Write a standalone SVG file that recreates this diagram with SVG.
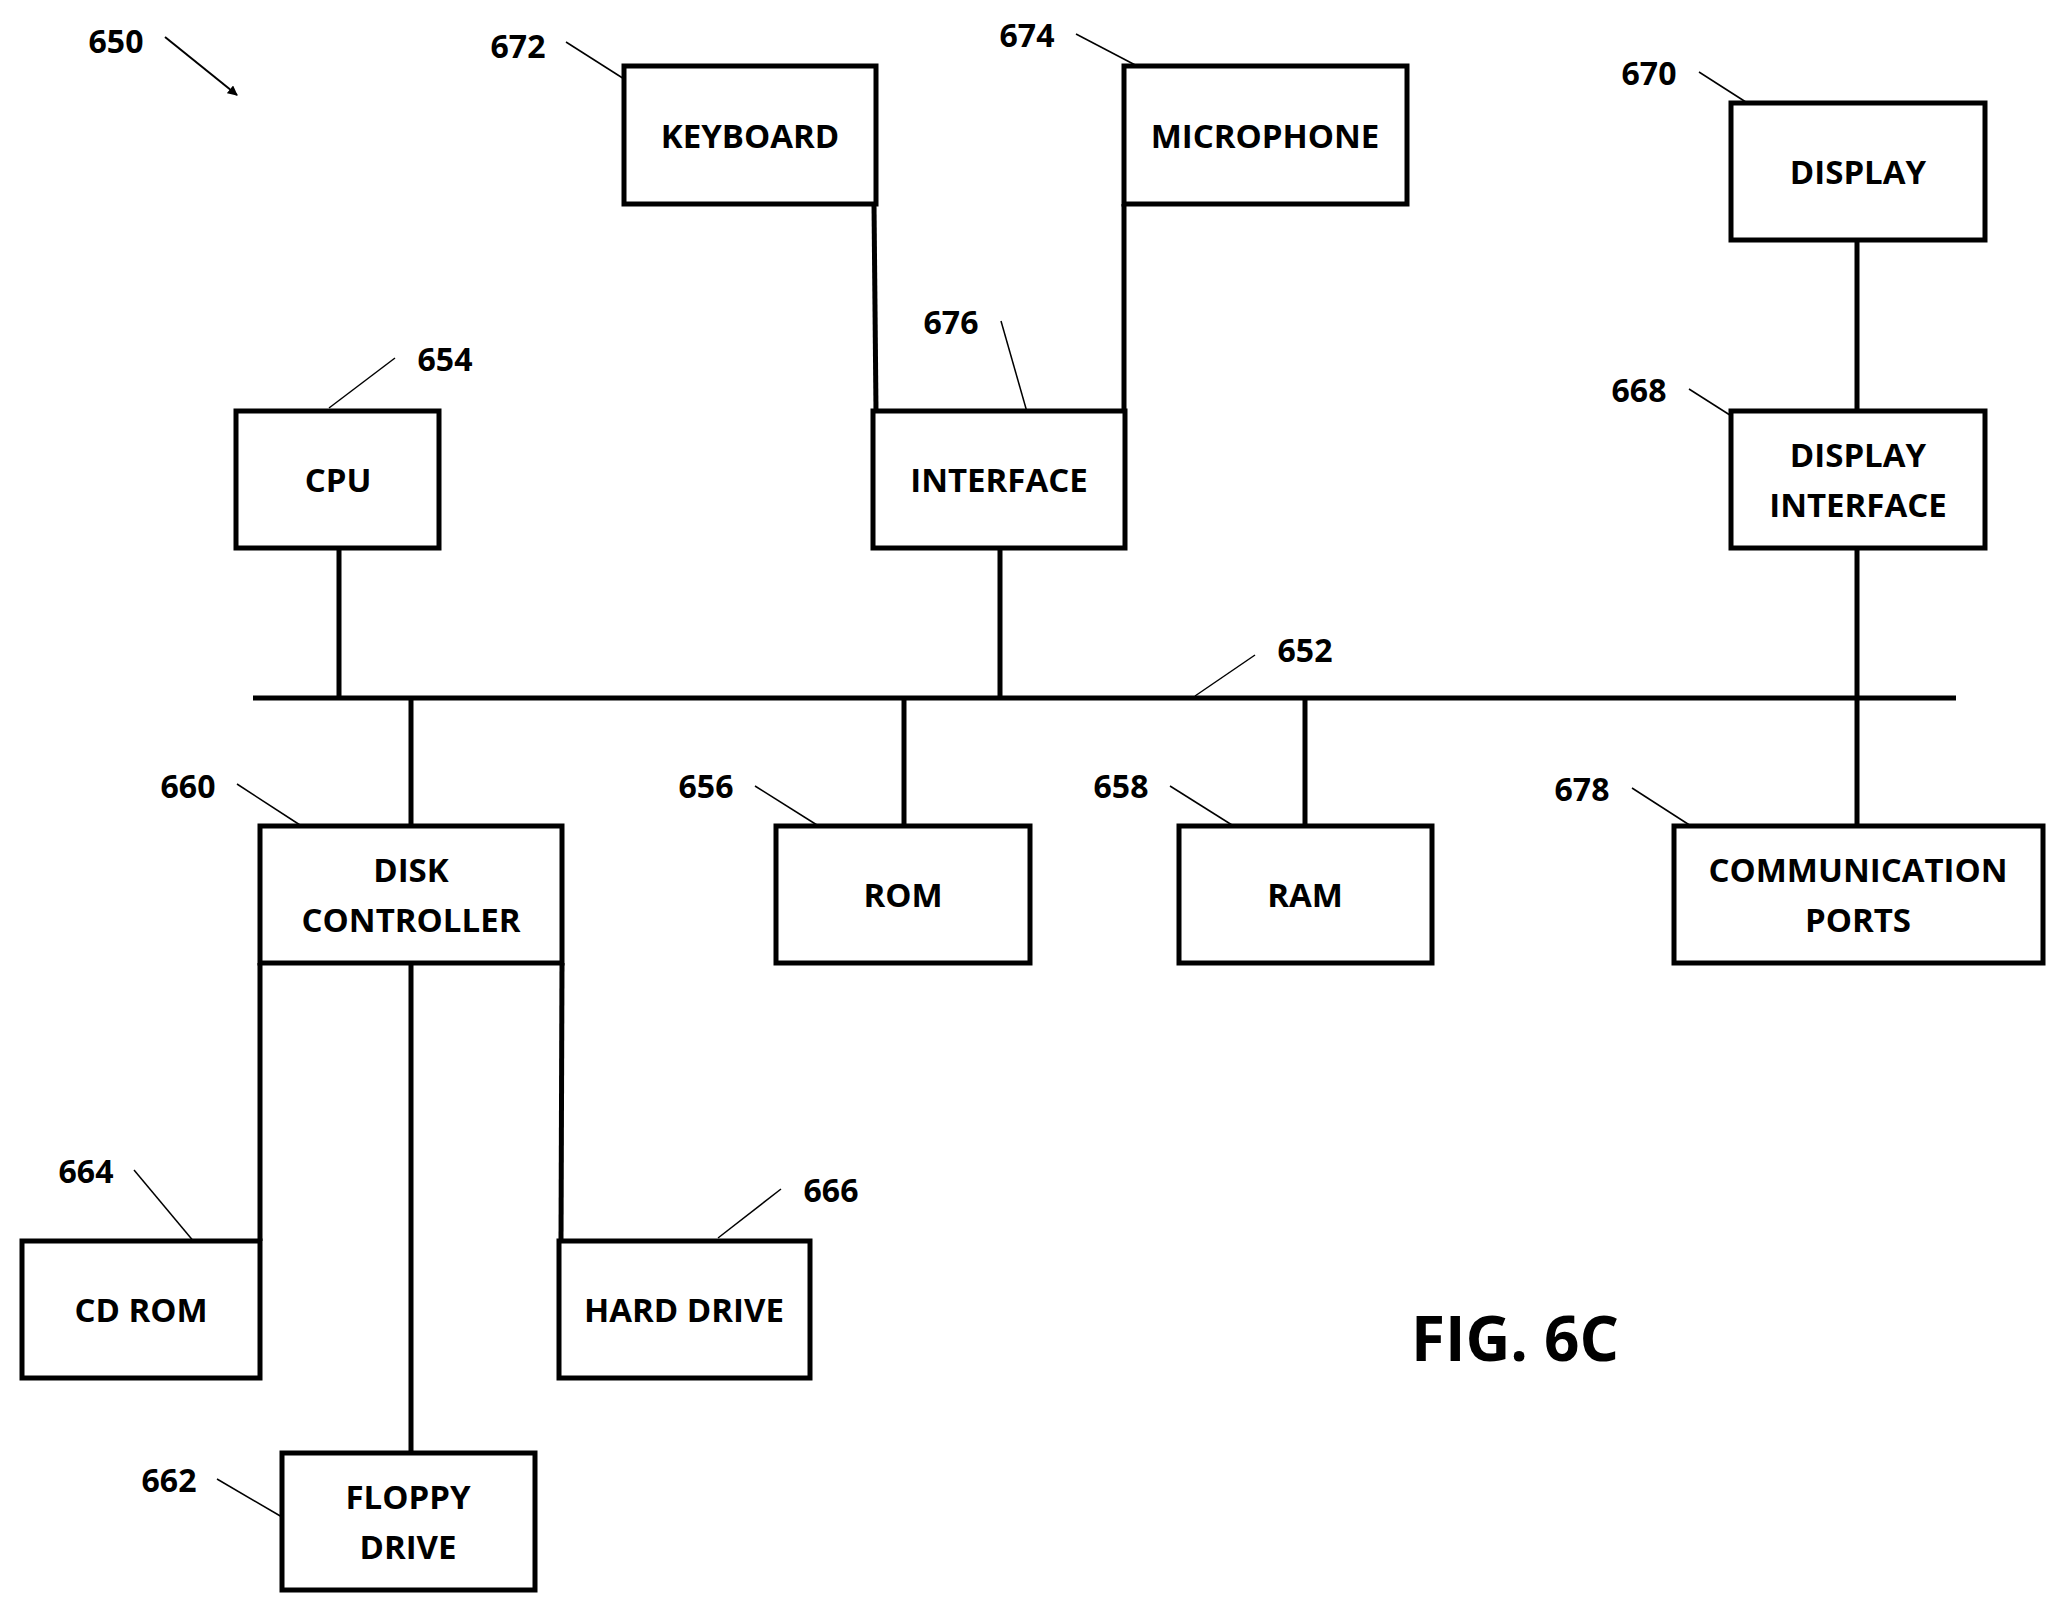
<svg xmlns="http://www.w3.org/2000/svg" width="2055" height="1605" viewBox="0 0 2055 1605">
<style>
.b{fill:#fff;stroke:#000;stroke-width:5}
.t{font-family:"Open Sans","Liberation Sans",sans-serif;font-weight:bold;font-size:33px;text-anchor:middle;dominant-baseline:central}
.n{font-family:"Open Sans","Liberation Sans",sans-serif;font-weight:bold;font-size:32px;text-anchor:middle;dominant-baseline:central}
.c{stroke:#000;stroke-width:5;fill:none}
.l{stroke:#000;stroke-width:1.5;fill:none}
</style>
<defs><marker id="ah" markerWidth="10" markerHeight="10" refX="9" refY="5" orient="auto" markerUnits="userSpaceOnUse" viewBox="0 0 10 10"><path d="M0,0L10,5L0,10z"/></marker></defs>
<g id="connectors">
<line class="c" x1="253" y1="698" x2="1956" y2="698"/>
<line class="c" x1="339" y1="548" x2="339" y2="698"/>
<line class="c" x1="1000" y1="548" x2="1000" y2="698"/>
<line class="c" x1="1857" y1="240" x2="1857" y2="411"/>
<line class="c" x1="1857" y1="548" x2="1857" y2="826"/>
<line class="c" x1="411" y1="698" x2="411" y2="826"/>
<line class="c" x1="904" y1="698" x2="904" y2="826"/>
<line class="c" x1="1305" y1="698" x2="1305" y2="826"/>
<line class="c" x1="874" y1="204" x2="876" y2="411"/>
<line class="c" x1="1124" y1="204" x2="1124" y2="411"/>
<line class="c" x1="260" y1="963" x2="260" y2="1241"/>
<line class="c" x1="562" y1="963" x2="561" y2="1241"/>
<line class="c" x1="411" y1="963" x2="411" y2="1453"/>
<g class="l">
<line x1="165" y1="37" x2="237" y2="95" marker-end="url(#ah)" stroke-width="2"/>
<line x1="566" y1="42" x2="632" y2="84"/>
<line x1="1076" y1="34" x2="1141" y2="68"/>
<line x1="1699" y1="72" x2="1763" y2="113"/>
<line x1="1001" y1="321" x2="1029" y2="419"/>
<line x1="395" y1="358" x2="329" y2="408"/>
<line x1="1689" y1="389" x2="1755" y2="431"/>
<line x1="1255" y1="655" x2="1195" y2="696"/>
<line x1="237" y1="784" x2="300" y2="825"/>
<line x1="755" y1="786" x2="817" y2="825"/>
<line x1="1170" y1="786" x2="1232" y2="825"/>
<line x1="1632" y1="788" x2="1691" y2="826"/>
<line x1="134" y1="1170" x2="200" y2="1249"/>
<line x1="781" y1="1189" x2="718" y2="1238"/>
<line x1="217" y1="1479" x2="282" y2="1517"/>
</g>
</g>
<g id="keyboard"><rect class="b" x="624" y="66" width="252" height="138"/><text class="t" x="750" y="135">KEYBOARD</text></g>
<g id="microphone"><rect class="b" x="1124" y="66" width="283" height="138"/><text class="t" x="1265" y="135">MICROPHONE</text></g>
<g id="display"><rect class="b" x="1731" y="103" width="254" height="137"/><text class="t" x="1858" y="171">DISPLAY</text></g>
<g id="cpu"><rect class="b" x="236" y="411" width="203" height="137"/><text class="t" x="338" y="479">CPU</text></g>
<g id="interface"><rect class="b" x="873" y="411" width="252" height="137"/><text class="t" x="999" y="479">INTERFACE</text></g>
<g id="display-interface"><rect class="b" x="1731" y="411" width="254" height="137"/><text class="t" x="1858" y="454">DISPLAY</text><text class="t" x="1858" y="504">INTERFACE</text></g>
<g id="disk-controller"><rect class="b" x="260" y="826" width="302" height="137"/><text class="t" x="411" y="869">DISK</text><text class="t" x="411" y="919">CONTROLLER</text></g>
<g id="rom"><rect class="b" x="776" y="826" width="254" height="137"/><text class="t" x="903" y="894">ROM</text></g>
<g id="ram"><rect class="b" x="1179" y="826" width="253" height="137"/><text class="t" x="1305" y="894">RAM</text></g>
<g id="comm-ports"><rect class="b" x="1674" y="826" width="369" height="137"/><text class="t" x="1858" y="869">COMMUNICATION</text><text class="t" x="1858" y="919">PORTS</text></g>
<g id="cd-rom"><rect class="b" x="22" y="1241" width="238" height="137"/><text class="t" x="141" y="1309">CD ROM</text></g>
<g id="hard-drive"><rect class="b" x="559" y="1241" width="251" height="137"/><text class="t" x="684" y="1309">HARD DRIVE</text></g>
<g id="floppy"><rect class="b" x="282" y="1453" width="253" height="137"/><text class="t" x="408" y="1496">FLOPPY</text><text class="t" x="408" y="1546">DRIVE</text></g>
<g id="labels">
<text class="n" x="116" y="40">650</text>
<text class="n" x="518" y="45">672</text>
<text class="n" x="1027" y="34">674</text>
<text class="n" x="1649" y="72">670</text>
<text class="n" x="951" y="321">676</text>
<text class="n" x="445" y="358">654</text>
<text class="n" x="1639" y="389">668</text>
<text class="n" x="1305" y="649">652</text>
<text class="n" x="188" y="785">660</text>
<text class="n" x="706" y="785">656</text>
<text class="n" x="1121" y="785">658</text>
<text class="n" x="1582" y="788">678</text>
<text class="n" x="86" y="1170">664</text>
<text class="n" x="831" y="1189">666</text>
<text class="n" x="169" y="1479">662</text>
<text class="n" x="1515" y="1337" style="font-size:62px">FIG. 6C</text>
</g>
</svg>
